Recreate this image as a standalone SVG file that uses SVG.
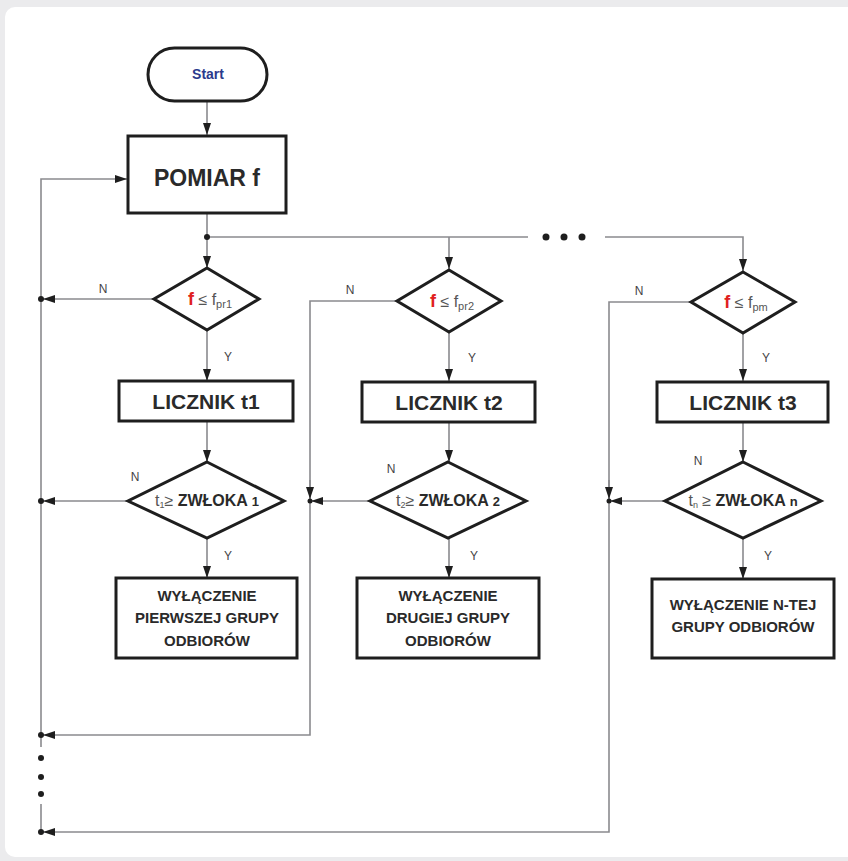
<svg xmlns="http://www.w3.org/2000/svg" width="848" height="861" viewBox="0 0 848 861">
<style>
.shape{fill:#fff;stroke:#1e1e1e;stroke-width:3}
.line{fill:none;stroke:#8a8a8e;stroke-width:1.6}
.ttl{font-family:"Liberation Sans",Arial,sans-serif;font-weight:bold;fill:#2a2a2a;text-anchor:middle}
.small{font-family:"Liberation Sans",Arial,sans-serif;font-size:12px;fill:#444;text-anchor:middle}
.cond{font-family:"Liberation Sans",Arial,sans-serif;font-size:16px;fill:#555;text-anchor:middle}
.dot{fill:#1e1e1e}
</style>
<defs>
<marker id="arr" viewBox="0 0 12 8" refX="12" refY="4" markerWidth="12" markerHeight="8" markerUnits="userSpaceOnUse" orient="auto">
<path d="M0,0 L12,4 L0,8 z" fill="#1e1e1e"/>
</marker>
</defs>
<rect x="0" y="0" width="848" height="861" fill="#ebebed"/>
<rect x="5" y="7" width="860" height="850" rx="10" fill="#fff"/>

<g id="connectors">
<path class="line" d="M207,101 V135" marker-end="url(#arr)"/>
<path class="line" d="M207,213 V268" marker-end="url(#arr)"/>
<path class="line" d="M207,237 H528"/>
<path class="line" d="M605,237 H743 V271" marker-end="url(#arr)"/>
<path class="line" d="M449,237 V269" marker-end="url(#arr)"/>
<path class="line" d="M207,330 V381" marker-end="url(#arr)"/>
<path class="line" d="M449,332 V381" marker-end="url(#arr)"/>
<path class="line" d="M743,333 V381" marker-end="url(#arr)"/>
<path class="line" d="M207,421 V462" marker-end="url(#arr)"/>
<path class="line" d="M449,421 V462" marker-end="url(#arr)"/>
<path class="line" d="M743,422 V462" marker-end="url(#arr)"/>
<path class="line" d="M207,538 V578" marker-end="url(#arr)"/>
<path class="line" d="M449,538 V578" marker-end="url(#arr)"/>
<path class="line" d="M743,538 V579" marker-end="url(#arr)"/>
<path class="line" d="M154,299 H43" marker-end="url(#arr)"/>
<path class="line" d="M128,501 H43" marker-end="url(#arr)"/>
<path class="line" d="M397,301 H310 V735 H43" marker-end="url(#arr)"/>
<path class="line" d="M310,480 V499" marker-end="url(#arr)"/>
<path class="line" d="M370,501 H311" marker-end="url(#arr)"/>
<path class="line" d="M691,302 H609 V832 H43" marker-end="url(#arr)"/>
<path class="line" d="M609,480 V499" marker-end="url(#arr)"/>
<path class="line" d="M665,501 H610" marker-end="url(#arr)"/>
<path class="line" d="M41,747 V179 H127" marker-end="url(#arr)"/>
<path class="line" d="M41,804 V832"/>
<circle class="dot" cx="207" cy="237" r="3"/>
<circle class="dot" cx="546" cy="237" r="3.5"/>
<circle class="dot" cx="564" cy="237" r="3.5"/>
<circle class="dot" cx="582" cy="237" r="3.5"/>
<circle class="dot" cx="41" cy="299" r="3"/>
<circle class="dot" cx="41" cy="501" r="3"/>
<circle class="dot" cx="41" cy="735" r="3"/>
<circle class="dot" cx="41" cy="832" r="3"/>
<circle class="dot" cx="310" cy="501" r="2.5"/>
<circle class="dot" cx="609" cy="501" r="2.5"/>
<circle class="dot" cx="41" cy="758" r="3"/>
<circle class="dot" cx="41" cy="777" r="3"/>
<circle class="dot" cx="41" cy="794" r="3"/>
<text class="small" x="103" y="293">N</text>
<text class="small" x="350" y="294">N</text>
<text class="small" x="639" y="295">N</text>
<text class="small" x="135" y="481">N</text>
<text class="small" x="391" y="473">N</text>
<text class="small" x="698" y="465">N</text>
<text class="small" x="228" y="361">Y</text>
<text class="small" x="472" y="362">Y</text>
<text class="small" x="766" y="362">Y</text>
<text class="small" x="228" y="560">Y</text>
<text class="small" x="474" y="560">Y</text>
<text class="small" x="768" y="560">Y</text>
</g>

<g id="start">
<rect class="shape" x="148" y="48" width="119" height="53" rx="26.5"/>
<text class="ttl" x="208" y="79" font-size="14" style="fill:#2b3a8c">Start</text>
</g>

<g id="pomiar">
<rect class="shape" x="128" y="136" width="158" height="77"/>
<text class="ttl" x="207" y="186" font-size="23">POMIAR f</text>
</g>

<g id="cond1">
<polygon class="shape" points="207,268 259,299 207,330 154,299"/>
<text class="cond" x="210" y="305"><tspan fill="#e02020" font-weight="bold" font-size="18">f</tspan> ≤ f<tspan font-size="11" dy="3">pr1</tspan></text>
</g>
<g id="cond2">
<polygon class="shape" points="449,270 501,301 449,332 397,301"/>
<text class="cond" x="452" y="307"><tspan fill="#e02020" font-weight="bold" font-size="18">f</tspan> ≤ f<tspan font-size="11" dy="3">pr2</tspan></text>
</g>
<g id="cond3">
<polygon class="shape" points="743,272 795,302 743,333 691,302"/>
<text class="cond" x="746" y="308"><tspan fill="#e02020" font-weight="bold" font-size="18">f</tspan> ≤ f<tspan font-size="11" dy="3">pm</tspan></text>
</g>

<g id="licznik1">
<rect class="shape" x="119" y="381" width="174" height="40"/>
<text class="ttl" x="206" y="409" font-size="21">LICZNIK t1</text>
</g>
<g id="licznik2">
<rect class="shape" x="362" y="382" width="173" height="40"/>
<text class="ttl" x="449" y="410" font-size="21">LICZNIK t2</text>
</g>
<g id="licznik3">
<rect class="shape" x="657" y="382" width="171" height="40"/>
<text class="ttl" x="743" y="410" font-size="21">LICZNIK t3</text>
</g>

<g id="delay1">
<polygon class="shape" points="207,462 284,501 207,538 128,501"/>
<text class="cond" x="207" y="506" font-size="15">t<tspan font-size="9" dy="2">1</tspan><tspan dy="-2">≥ </tspan><tspan font-weight="bold" fill="#2a2a2a">ZWŁOKA <tspan font-size="13">1</tspan></tspan></text>
</g>
<g id="delay2">
<polygon class="shape" points="448,462 526,501 448,538 370,501"/>
<text class="cond" x="448" y="506" font-size="15">t<tspan font-size="9" dy="2">2</tspan><tspan dy="-2">≥ </tspan><tspan font-weight="bold" fill="#2a2a2a">ZWŁOKA <tspan font-size="13">2</tspan></tspan></text>
</g>
<g id="delay3">
<polygon class="shape" points="743,462 821,501 743,538 665,501"/>
<text class="cond" x="743" y="506" font-size="15">t<tspan font-size="9" dy="2">n</tspan><tspan dy="-2"> ≥ </tspan><tspan font-weight="bold" fill="#2a2a2a">ZWŁOKA <tspan font-size="13">n</tspan></tspan></text>
</g>

<g id="off1">
<rect class="shape" x="116" y="578" width="181" height="80"/>
<text class="ttl" font-size="15"><tspan x="207" y="601">WYŁĄCZENIE</tspan><tspan x="207" y="623">PIERWSZEJ GRUPY</tspan><tspan x="207" y="646">ODBIORÓW</tspan></text>
</g>
<g id="off2">
<rect class="shape" x="357" y="578" width="182" height="80"/>
<text class="ttl" font-size="15"><tspan x="448" y="601">WYŁĄCZENIE</tspan><tspan x="448" y="623">DRUGIEJ GRUPY</tspan><tspan x="448" y="646">ODBIORÓW</tspan></text>
</g>
<g id="off3">
<rect class="shape" x="652" y="579" width="182" height="79"/>
<text class="ttl" font-size="15"><tspan x="743" y="610">WYŁĄCZENIE N-TEJ</tspan><tspan x="743" y="632">GRUPY ODBIORÓW</tspan></text>
</g>
</svg>
